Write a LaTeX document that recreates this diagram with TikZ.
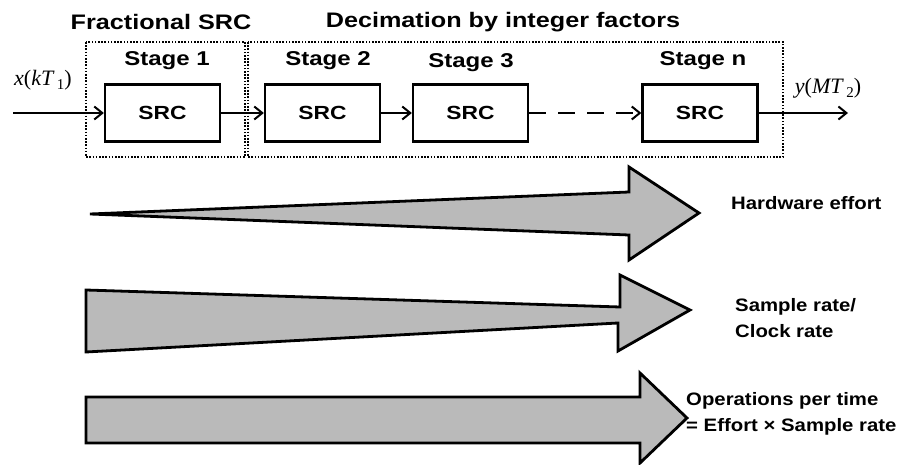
\documentclass[tikz,border=0pt]{standalone}
\usepackage{fontspec}
\usetikzlibrary{arrows.meta}
\newfontfamily\labfont[FakeStretch=1.2]{Liberation Sans}
\newfontfamily\sidefont[FakeStretch=1.13]{Liberation Sans}
\newfontfamily\mserif{Liberation Serif}
\newcommand{\mi}[1]{{\mserif\itshape #1}}
\newcommand{\mr}[1]{{\mserif #1}}
\newcommand{\msub}[1]{\raisebox{-4pt}{\mserif\fontsize{15}{15}\selectfont #1}}
\begin{document}
\begin{tikzpicture}[x=1pt,y=-1pt,
  title/.style={font=\labfont\bfseries\fontsize{21}{24}\selectfont, inner sep=0pt},
  stagelab/.style={font=\labfont\bfseries\fontsize{20}{23}\selectfont, inner sep=0pt},
  srcbox/.style={draw=black, line width=2.3pt, minimum width=115pt, minimum height=57pt, inner sep=0pt,
     font=\labfont\bfseries\fontsize{19}{22}\selectfont},
  groupbox/.style={draw=black, line width=2.2pt, dash pattern=on 1.6pt off 1.6pt},
  sig/.style={line width=2pt, -{Straight Barb[length=8pt,width=13pt,line width=2pt]}},
  bigarrow/.style={draw=black, line width=2.8pt, fill=black!27, line join=miter},
  sidelab/.style={font=\sidefont\bfseries\fontsize{18}{26}\selectfont, inner sep=0pt, anchor=west, align=left},
  mathlab/.style={font=\fontsize{22}{24}\selectfont, inner sep=0pt}]
\useasboundingbox (0,0) rectangle (913,465);

% group frames
\draw[groupbox] (86,42) rectangle (245,157);
\draw[groupbox] (248,42) rectangle (783,157);

% titles
\node[title] (t1) at (161,22) {Fractional SRC};
\node[title] (t2) at (503,22) {Decimation by integer factors};

% stage labels
\node[stagelab] (s1) at (167,61) {Stage 1};
\node[stagelab] (s2) at (328,61) {Stage 2};
\node[stagelab] (s3) at (471,63) {Stage 3};
\node[stagelab] (sn) at (703,61) {Stage n};

% SRC boxes
\node[srcbox] (b1) at (162.5,113) {SRC};
\node[srcbox] (b2) at (322.5,113) {SRC};
\node[srcbox] (b3) at (470.5,113) {SRC};
\node[srcbox] (bn) at (700,113) {SRC};

% signal connectors
\coordinate (in) at (13,113);
\coordinate (out) at (848,113);
\draw[sig] (in) -- (b1.west);
\draw[sig] (b1.east) -- (b2.west);
\draw[sig] (b2.east) -- (b3.west);
\draw[sig, dash pattern=on 17pt off 12pt] (b3.east) -- (bn.west);
\draw[sig] (bn.east) -- (out);

\node[mathlab] (xin) at (43,80) {\mi{x}\mr{(}\mi{kT}\,\msub{1}\mr{)}};
\node[mathlab] (yout) at (828,88) {\mi{y}\mr{(}\mi{MT}\,\msub{2}\mr{)}};

% big arrows
\draw[bigarrow] (90,214) -- (629,192) -- (629,167) -- (699,213) -- (629,260) -- (629,235) -- cycle;
\draw[bigarrow] (86,290) -- (620,307) -- (620,275) -- (690,310) -- (618,351) -- (618,323) -- (86,352) -- cycle;
\draw[bigarrow] (86,397) -- (640,397) -- (640,373) -- (687,418) -- (640,463) -- (640,443) -- (86,443) -- cycle;

% side labels
\node[sidelab] (l1) at (731,203) {Hardware effort};
\node[sidelab] (l2) at (735,318) {Sample rate/\\Clock rate};
\node[sidelab] (l3) at (686,414) {Operations per time\\= Effort × Sample rate};
\end{tikzpicture}
\end{document}
